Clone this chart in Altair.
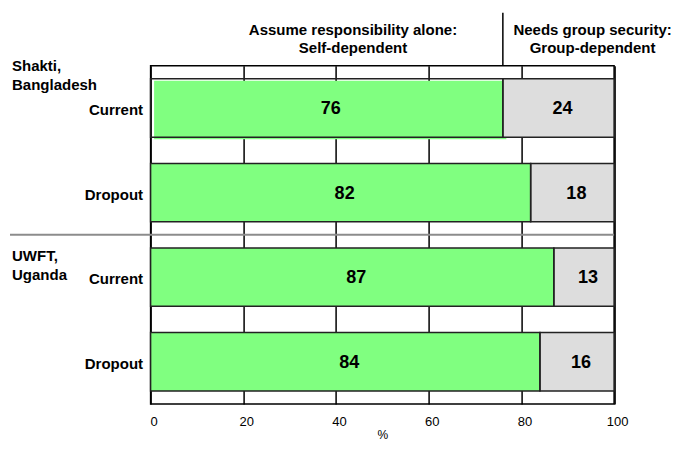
import altair as alt
import pandas as pd

# ---- data ----
group_keys = ["Shakti", "Shakti", "UWFT", "UWFT"]
statuses = ["Current", "Dropout", "Current", "Dropout"]
self_dependent = [76, 82, 87, 84]
group_dependent = [24, 18, 13, 16]
x_ticks = [0, 20, 40, 60, 80, 100]
header_self = "Assume responsibility alone:\nSelf-dependent"
header_group = "Needs group security:\nGroup-dependent"
group_label_shakti = "Shakti,\nBangladesh"
group_label_uwft = "UWFT,\nUganda"
divider_at = [76]

keys = [f"{g}|{s}" for g, s in zip(group_keys, statuses)]

rows = []
for k, sv, gv in zip(keys, self_dependent, group_dependent):
    rows.append({"key": k, "seg": "Self", "start": 0, "end": sv, "value": sv})
    rows.append({"key": k, "seg": "Group", "start": sv, "end": sv + gv, "value": gv})
df = pd.DataFrame(rows)
df["mid"] = (df["start"] + df["end"]) / 2
df["offsetfill"] = (df["key"] == keys[0]) & (df["seg"] == "Self")

W, H = 463.5, 338.3
FONT = "Liberation Sans"

yscale = alt.Scale(domain=keys, paddingInner=0.31, paddingOuter=0.155)
xscale = alt.Scale(domain=[0, 100], nice=False)
colscale = alt.Scale(domain=["Self", "Group"], range=["#80FF80", "#DDDDDD"])

base = alt.Chart(df)

x_axis = alt.Axis(values=x_ticks, grid=True, gridColor="black", gridWidth=1.5,
                  ticks=False, tickSize=0, domain=False, labelFontSize=13,
                  labelFont=FONT, labelColor="black", labelOffset=3, labelPadding=11,
                  labelFlush=False,
                  title="%", titleFont=FONT, titleFontSize=12, titleFontWeight="normal",
                  titleColor="black", titlePadding=1)
y_axis = alt.Axis(title=None, ticks=False, tickSize=0, domain=False, grid=False,
                  labelExpr="split(datum.label, '|')[1]", labelFont=FONT,
                  labelFontSize=15, labelFontWeight="bold", labelColor="black",
                  labelPadding=8, labelOffset=2)

fills = base.transform_filter("!datum.offsetfill").mark_bar(strokeWidth=0).encode(
    y=alt.Y("key:N", scale=yscale, axis=y_axis, sort=keys),
    x=alt.X("start:Q", scale=xscale, axis=x_axis),
    x2="end:Q",
    color=alt.Color("seg:N", scale=colscale, legend=None),
)

offset_fill = base.transform_filter("datum.offsetfill").mark_bar(
    strokeWidth=0, xOffset=3.5, x2Offset=3.5, yOffset=2, y2Offset=2
).encode(
    y=alt.Y("key:N", scale=yscale, sort=keys),
    x=alt.X("start:Q", scale=xscale),
    x2="end:Q",
    color=alt.Color("seg:N", scale=colscale, legend=None),
)

outlines = base.mark_bar(fillOpacity=0, stroke="#222222", strokeWidth=1.5).encode(
    y=alt.Y("key:N", scale=yscale, sort=keys),
    x=alt.X("start:Q", scale=xscale),
    x2="end:Q",
)

values = base.mark_text(font=FONT, fontSize=18, fontWeight="bold", dx=4, dy=1,
                        baseline="middle", color="black").encode(
    y=alt.Y("key:N", scale=yscale, sort=keys),
    x=alt.X("mid:Q", scale=xscale),
    text="value:Q",
)

lab1 = alt.Chart(pd.DataFrame({"key": [keys[0]], "t": [group_label_shakti]})).mark_text(
    font=FONT, fontSize=15, fontWeight="bold", align="left", baseline="alphabetic",
    lineBreak="\n", lineHeight=19, dy=-37, color="black"
).encode(y=alt.Y("key:N", scale=yscale, sort=keys), x=alt.value(-138.6), text="t:N")

lab2 = alt.Chart(pd.DataFrame({"key": [keys[2]], "t": [group_label_uwft]})).mark_text(
    font=FONT, fontSize=15, fontWeight="bold", align="left", baseline="alphabetic",
    lineBreak="\n", lineHeight=19, dy=-16, color="black"
).encode(y=alt.Y("key:N", scale=yscale, sort=keys), x=alt.value(-138.6), text="t:N")

head1 = alt.Chart(pd.DataFrame({"t": [header_self]})).mark_text(
    font=FONT, fontSize=15, fontWeight="bold", align="center", baseline="alphabetic",
    lineBreak="\n", lineHeight=18.5, color="black"
).encode(x=alt.value(202.4), y=alt.value(-30.7), text="t:N")

head2 = alt.Chart(pd.DataFrame({"t": [header_group]})).mark_text(
    font=FONT, fontSize=15, fontWeight="bold", align="center", baseline="alphabetic",
    lineBreak="\n", lineHeight=18.5, color="black"
).encode(x=alt.value(442), y=alt.value(-30.7), text="t:N")

divider = alt.Chart(pd.DataFrame({"x": divider_at})).mark_rule(
    color="black", strokeWidth=1.5
).encode(x=alt.X("x:Q", scale=xscale), y=alt.value(-53), y2=alt.value(0))

separator = alt.Chart(pd.DataFrame({"a": [0]})).mark_rule(
    color="#8c8c8c", strokeWidth=2
).encode(x=alt.value(-140.6), x2=alt.value(W), y=alt.value(H / 2))

chart = alt.layer(
    offset_fill, fills, outlines, values, lab1, lab2, head1, head2, divider, separator
).properties(
    width=W, height=H,
    autosize=alt.AutoSizeParams(type="none"),
    padding={"left": 142.6, "top": 57.7, "right": 57.9, "bottom": 40},
    background="white",
).configure_view(stroke="black", strokeWidth=1.5)

chart.save("out.html", embed_options={"renderer": "svg", "actions": False})
